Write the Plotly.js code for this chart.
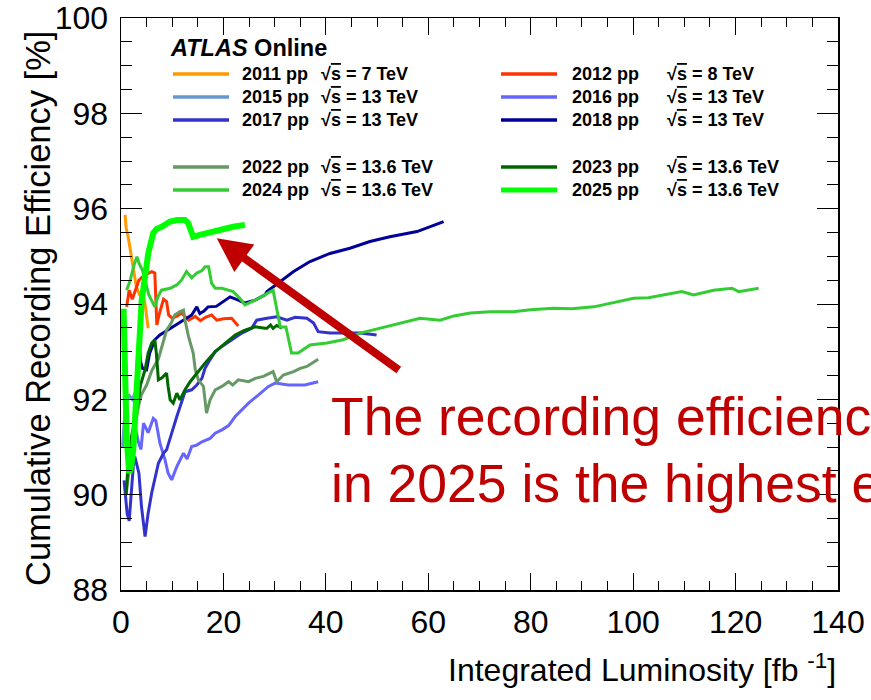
<!DOCTYPE html>
<html>
<head>
<meta charset="utf-8">
<script src="https://cdn.plot.ly/plotly-3.0.1.min.js"></script>
<style>html,body{margin:0;padding:0;background:#fff;}#chart{width:871px;height:700px;}</style>
</head>
<body>
<div id="chart"></div>
<script>
// ---- data (integrated luminosity [fb^-1], cumulative recording efficiency [%]) ----
const x2011 = [0.8, 1.0, 1.4, 1.8, 2.3, 2.7, 3.0, 3.6, 4.4, 4.7, 5.0, 5.3];
const y2011 = [95.87, 95.6, 95.41, 95.13, 94.86, 94.57, 94.36, 94.2, 94.15, 94.0, 93.73, 93.49];

const x2012 = [1.1, 1.6, 2.2, 2.8, 3.5, 4.5, 5.3, 6.0, 6.6, 7.0, 7.5, 8.3, 8.9, 9.3, 10.0, 11.0, 11.8, 13.2, 14.5, 15.5, 16.5, 17.7, 18.7, 20.0, 21.6, 22.9];
const y2012 = [93.94, 94.29, 94.1, 94.3, 94.5, 94.6, 94.64, 94.68, 94.65, 93.56, 93.8, 94.1, 94.05, 93.77, 93.70, 93.75, 93.81, 93.66, 93.74, 93.65, 93.72, 93.77, 93.66, 93.69, 93.70, 93.54];

const x2015 = [0.3, 0.8, 1.5, 2.2, 3.0, 3.9];
const y2015 = [91.0, 91.8, 92.1, 92.0, 92.2, 92.1];

const x2016 = [2.4, 2.8, 3.4, 3.9, 4.4, 5.3, 6.3, 6.8, 7.6, 8.6, 9.2, 9.9, 10.9, 12.2, 12.9, 13.8, 14.8, 15.8, 17.4, 18.4, 19.7, 21.0, 22.3, 23.6, 24.9, 26.8, 28.8, 30.1, 32.7, 35.9, 38.5];
const y2016 = [91.0, 91.4, 91.1, 90.95, 91.5, 91.3, 91.6, 91.55, 91.08, 90.73, 90.45, 90.31, 90.59, 90.87, 90.75, 91.01, 91.04, 91.11, 91.18, 91.29, 91.36, 91.45, 91.64, 91.78, 91.92, 92.09, 92.27, 92.34, 92.30, 92.30, 92.37];

const x2017 = [0.6, 0.9, 1.2, 1.6, 2.0, 2.4, 2.7, 3.2, 3.5, 4.0, 4.7, 5.3, 6.0, 7.3, 8.3, 8.9, 9.6, 9.9, 10.9, 11.9, 12.5, 13.8, 14.8, 15.8, 16.4, 17.2, 18.4, 19.7, 21.6, 23.6, 25.5, 26.5, 28.5, 30.4, 32.4, 34.0, 36.3, 37.6, 38.5, 40.8, 44.1, 46.7, 49.9];
const y2017 = [90.3, 89.9, 89.6, 89.45, 90.0, 90.6, 90.8, 90.6, 90.45, 89.75, 89.12, 89.61, 90.04, 90.66, 90.87, 90.94, 91.22, 91.29, 91.64, 91.99, 92.16, 92.2, 92.3, 92.44, 92.65, 92.8, 93.0, 93.11, 93.25, 93.39, 93.49, 93.66, 93.70, 93.73, 93.66, 93.72, 93.70, 93.60, 93.42, 93.39, 93.39, 93.39, 93.35];

const x2018 = [3.5, 3.8, 4.2, 5.0, 5.6, 6.6, 7.6, 8.6, 9.2, 10.5, 11.8, 12.8, 13.8, 14.8, 15.4, 16.2, 17.0, 18.6, 20.3, 21.3, 22.9, 24.2, 26.2, 28.1, 28.5, 31.1, 33.7, 36.9, 40.8, 44.7, 48.6, 52.5, 57.8, 63.0];
const y2018 = [93.3, 92.8, 92.65, 92.62, 92.97, 93.25, 93.35, 93.42, 93.45, 93.55, 93.63, 93.7, 93.77, 93.94, 93.8, 93.85, 93.94, 93.95, 94.08, 94.15, 94.08, 94.02, 94.08, 94.19, 94.26, 94.47, 94.68, 94.89, 95.06, 95.17, 95.31, 95.41, 95.52, 95.73];

const x2022 = [1.0, 1.5, 2.5, 3.5, 4.0, 5.0, 6.0, 7.3, 8.3, 8.9, 9.8, 10.5, 11.5, 12.2, 12.5, 13.2, 14.1, 14.5, 15.1, 16.1, 16.4, 16.7, 17.4, 18.4, 19.7, 21.0, 21.8, 22.9, 24.9, 26.2, 27.8, 29.7, 30.4, 31.7, 33.7, 35.0, 36.3, 37.6, 38.5];
const y2022 = [90.0, 90.4, 91.3, 91.9, 92.1, 92.3, 92.6, 92.85, 93.2, 93.45, 93.6, 93.77, 93.84, 93.87, 93.66, 93.31, 92.97, 92.62, 92.41, 92.27, 91.99, 91.71, 91.99, 92.2, 92.27, 92.37, 92.3, 92.41, 92.37, 92.44, 92.48, 92.58, 92.37, 92.51, 92.58, 92.65, 92.69, 92.79, 92.84];

const x2023 = [1.0, 1.3, 2.0, 2.8, 3.4, 3.8, 4.7, 5.3, 6.0, 6.6, 6.9, 7.3, 8.0, 8.9, 9.2, 9.6, 10.2, 10.9, 11.5, 12.5, 13.5, 14.8, 16.4, 18.4, 20.3, 22.3, 24.2, 26.2, 28.1, 28.5, 29.2, 29.7, 30.4, 31.4];
const y2023 = [90.0, 90.5, 91.2, 91.6, 91.99, 92.3, 92.62, 92.97, 93.18, 93.25, 92.97, 92.41, 92.45, 92.55, 92.27, 91.99, 91.92, 92.13, 91.99, 92.2, 92.37, 92.55, 92.76, 93.0, 93.18, 93.35, 93.45, 93.52, 93.49, 93.49, 93.56, 93.49, 93.55, 93.49];

const x2024 = [1.1, 1.8, 2.5, 3.1, 3.5, 4.2, 4.7, 5.4, 6.6, 7.2, 7.9, 9.6, 10.9, 11.8, 12.8, 13.8, 14.8, 15.8, 16.4, 17.1, 17.7, 18.4, 19.7, 21.0, 21.9, 23.2, 24.2, 26.2, 28.1, 29.7, 30.4, 31.1, 32.2, 33.0, 33.3, 34.6, 36.9, 40.2, 43.4, 46.7, 50.6, 54.5, 58.4, 62.3, 65.0, 68.2, 72.1, 76.6, 80.0, 84.4, 88.0, 92.3, 96.0, 100.1, 103.0, 105.9, 109.5, 111.8, 115.7, 119.3, 120.6, 124.5];
const y2024 = [94.29, 94.5, 94.8, 94.99, 94.86, 94.7, 94.5, 94.2, 93.94, 94.15, 94.29, 94.33, 94.4, 94.5, 94.68, 94.55, 94.65, 94.7, 94.78, 94.78, 94.43, 94.33, 94.33, 94.28, 94.26, 94.12, 93.98, 94.08, 94.19, 94.29, 93.9, 93.52, 93.52, 93.1, 92.97, 92.97, 93.14, 93.18, 93.25, 93.39, 93.49, 93.6, 93.7, 93.66, 93.75, 93.81, 93.84, 93.84, 93.88, 93.91, 93.9, 93.94, 94.02, 94.12, 94.13, 94.19, 94.26, 94.19, 94.29, 94.33, 94.26, 94.33];

const x2025 = [0.5, 0.8, 1.1, 1.6, 2.0, 2.4, 2.9, 3.4, 3.7, 4.04, 4.69, 5.33, 6.3, 7.0, 7.95, 9.57, 11.0, 12.5, 13.1, 13.6, 14.1, 15.4, 16.5, 17.7, 19.7, 21.9, 24.2];
const y2025 = [93.9, 92.6, 91.2, 90.45, 90.6, 90.95, 91.9, 92.9, 93.66, 94.08, 94.57, 95.07, 95.49, 95.58, 95.62, 95.73, 95.76, 95.76, 95.70, 95.55, 95.41, 95.45, 95.48, 95.52, 95.59, 95.62, 95.66];

// legend labels
const years    = ['2011', '2012', '2015', '2016', '2017', '2018', '2022', '2023', '2024', '2025'];
const energies = ['7', '8', '13', '13', '13', '13', '13.6', '13.6', '13.6', '13.6'];
const colors   = ['#ff9900', '#ff3300', '#6699cc', '#6666ff', '#3333cc', '#000099', '#669966', '#006600', '#33cc33', '#00ff00'];
const widths   = [3, 3, 3, 3, 3, 3, 3, 3, 3, 6];

const xs = [x2011, x2012, x2015, x2016, x2017, x2018, x2022, x2023, x2024, x2025];
const ys = [y2011, y2012, y2015, y2016, y2017, y2018, y2022, y2023, y2024, y2025];

const annLine1 = 'The recording efficiency';
const annLine2 = 'in 2025 is the highest ever';
const xTitle = 'Integrated Luminosity [fb <sup>-1</sup>]';
const yTitle = 'Cumulative Recording Efficiency [%]';

// ---- geometry helpers (page pixels -> paper coords) ----
const L = 121, R = 838, T = 18, B = 590;
const px = p => (p - L) / (R - L);
const py = p => (B - p) / (B - T);

const SANS = '"Liberation Sans", Arial, Helvetica, sans-serif';

const traces = years.map((yr, i) => ({
  type: 'scatter', mode: 'lines', name: yr + ' pp',
  x: xs[i], y: ys[i],
  line: {color: colors[i], width: widths[i]},
  showlegend: false, hoverinfo: 'skip'
}));

const shapes = [];
const annotations = [];

// legend built from the label arrays
const rowY = [74, 97, 120, 167, 190];
const colLine = [[173, 229], [501, 557]];
const colText = [240, 570];
const colE = [319, 665];
years.forEach((yr, i) => {
  const r = Math.floor(i / 2), c = i % 2;
  shapes.push({type: 'line', xref: 'paper', yref: 'paper',
    x0: px(colLine[c][0]), x1: px(colLine[c][1]), y0: py(rowY[r]), y1: py(rowY[r]),
    line: {color: colors[i], width: yr === '2025' ? 5 : 3.5}});
  annotations.push({xref: 'paper', yref: 'paper', x: px(colText[c]), y: py(rowY[r]),
    xanchor: 'left', yanchor: 'middle', showarrow: false,
    text: '<b>' + yr + ' pp</b>', font: {family: SANS, size: 18, color: '#000'}});
  annotations.push({xref: 'paper', yref: 'paper', x: px(colE[c]), y: py(rowY[r]),
    xanchor: 'left', yanchor: 'middle', showarrow: false,
    text: '<b>√<span style="text-decoration:overline">s</span> = ' + energies[i] + ' TeV</b>',
    font: {family: SANS, size: 18, color: '#000'}});
});
annotations.push({xref: 'paper', yref: 'paper', x: px(168), y: py(48),
  xanchor: 'left', yanchor: 'middle', showarrow: false,
  text: '<b><i>ATLAS</i> Online</b>', font: {family: SANS, size: 23.5, color: '#000'}});

// axis titles (x right aligned like the original)
annotations.push({xref: 'paper', yref: 'paper', x: 1, y: py(668),
  xanchor: 'right', yanchor: 'middle', showarrow: false,
  text: xTitle, font: {family: SANS, size: 32, color: '#000'}});
annotations.push({xref: 'paper', yref: 'paper', x: px(38), y: py(309),
  xanchor: 'center', yanchor: 'middle', textangle: -90, showarrow: false,
  text: yTitle, font: {family: SANS, size: 34.5, color: '#000'}});

// comment text and arrow
annotations.push({xref: 'paper', yref: 'paper', x: px(329), y: py(416),
  xanchor: 'left', yanchor: 'middle', align: 'left', showarrow: false,
  text: annLine1, font: {family: SANS, size: 53.5, color: '#c00000'}});
annotations.push({xref: 'paper', yref: 'paper', x: px(329), y: py(483),
  xanchor: 'left', yanchor: 'middle', align: 'left', showarrow: false,
  text: annLine2, font: {family: SANS, size: 53.5, color: '#c00000'}});
annotations.push({xref: 'x', yref: 'y', x: 18.7, y: 95.38, ax: 185, ay: 134,
  axref: 'pixel', ayref: 'pixel', text: ' ', showarrow: true,
  arrowhead: 2, arrowsize: 0.85, arrowwidth: 8, arrowcolor: '#c00000', standoff: 0});

const layout = {
  width: 871, height: 700,
  margin: {l: L, r: 871 - R, t: T, b: 700 - B, pad: 0},
  paper_bgcolor: '#fff', plot_bgcolor: '#fff',
  showlegend: false,
  font: {family: SANS, color: '#000'},
  xaxis: {
    range: [0, 140], dtick: 20, tick0: 0,
    ticks: 'inside', ticklen: 17, tickwidth: 1, tickcolor: '#000',
    minor: {dtick: 5, ticks: 'inside', ticklen: 9, tickcolor: '#000', tickwidth: 1},
    showline: true, linecolor: '#000', linewidth: 1.5, mirror: 'ticks',
    showgrid: false, zeroline: false,
    tickfont: {family: SANS, size: 32, color: '#000'},
    ticklabelstandoff: 3, ticklabeloverflow: 'allow'
  },
  yaxis: {
    range: [88, 100], dtick: 2, tick0: 88,
    ticks: 'inside', ticklen: 21, tickwidth: 1, tickcolor: '#000',
    minor: {dtick: 0.5, ticks: 'inside', ticklen: 11, tickcolor: '#000', tickwidth: 1},
    showline: true, linecolor: '#000', linewidth: 1.5, mirror: 'ticks',
    showgrid: false, zeroline: false,
    tickfont: {family: SANS, size: 32, color: '#000'},
    ticklabelstandoff: 5, ticklabeloverflow: 'allow'
  },
  shapes: shapes,
  annotations: annotations
};

Plotly.newPlot('chart', traces, layout, {displayModeBar: false, staticPlot: true});
</script>
</body>
</html>
